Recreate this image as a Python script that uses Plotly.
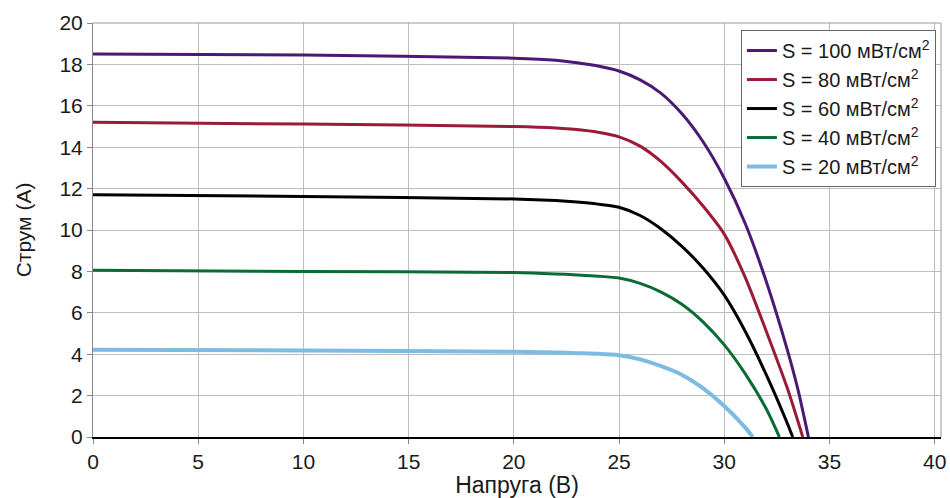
import plotly.graph_objects as go

# Data (voltage in V, current in A)
v100 = [0, 10, 20, 22, 23, 24, 25, 26, 27, 28, 29, 30, 31, 32, 33, 33.5, 34.0]
i100 = [18.5, 18.45, 18.3, 18.2, 18.08, 17.92, 17.68, 17.25, 16.6, 15.6, 14.25, 12.5, 10.3, 7.5, 4.2, 2.3, 0]

v80 = [0, 10, 20, 22, 23, 24, 25, 26, 27, 28, 29, 30, 31, 32, 33, 33.73]
i80 = [15.2, 15.12, 15.0, 14.93, 14.85, 14.72, 14.5, 14.05, 13.3, 12.3, 11.15, 9.8, 7.7, 5.1, 2.35, 0]

v60 = [0, 10, 20, 22, 23, 24, 25, 26, 27, 28, 29, 30, 31, 32, 33, 33.25]
i60 = [11.7, 11.62, 11.5, 11.42, 11.35, 11.25, 11.1, 10.7, 10.05, 9.2, 8.15, 6.85, 5.1, 3.0, 0.65, 0]

v40 = [0, 10, 20, 22, 23, 24, 25, 26, 27, 28, 29, 30, 31, 32, 32.62]
i40 = [8.05, 8.0, 7.95, 7.88, 7.83, 7.77, 7.68, 7.42, 7.0, 6.4, 5.55, 4.45, 3.05, 1.35, 0]

v20 = [0, 10, 20, 22, 23, 24, 25, 26, 27, 28, 29, 30, 31, 31.35]
i20 = [4.22, 4.18, 4.12, 4.08, 4.05, 4.02, 3.95, 3.75, 3.42, 3.0, 2.35, 1.5, 0.45, 0]

names = ["S = 100 мВт/см<sup>2</sup>", "S = 80 мВт/см<sup>2</sup>",
         "S = 60 мВт/см<sup>2</sup>", "S = 40 мВт/см<sup>2</sup>",
         "S = 20 мВт/см<sup>2</sup>"]
colors = ["#4b1873", "#9a1a38", "#000000", "#0b6b35", "#7dbbe2"]
widths = [3, 3, 3, 3, 4]
series = [(v100, i100), (v80, i80), (v60, i60), (v40, i40), (v20, i20)]

xticks = [0, 5, 10, 15, 20, 25, 30, 35, 40]
yticks = [0, 2, 4, 6, 8, 10, 12, 14, 16, 18, 20]

fig = go.Figure()
for (vx, iy), nm, c, w in zip(series, names, colors, widths):
    fig.add_trace(go.Scatter(x=vx, y=iy, name=nm, mode="lines",
                             line=dict(color=c, width=w, shape="spline", smoothing=0.7)))

font_family = "Liberation Sans, Arial, sans-serif"
fig.update_layout(
    width=950, height=498,
    margin=dict(l=93, r=9, t=23, b=61),
    paper_bgcolor="white", plot_bgcolor="white",
    font=dict(family=font_family, size=21, color="#1a1a1a"),
    showlegend=True,
    legend=dict(x=0.994, xanchor="right", y=0.983, yanchor="top",
                bgcolor="white", bordercolor="#666666", borderwidth=1,
                font=dict(size=20, color="#1a1a1a"),
                tracegroupgap=0, itemwidth=30),
    xaxis=dict(range=[0, 40.3], tickvals=xticks, showgrid=True, automargin=False,
               gridcolor="#bdbdbd", gridwidth=1, zeroline=False,
               showline=True, linecolor="#000000", linewidth=1.5,
               ticks="outside", ticklen=5, tickcolor="#888888",
               tickfont=dict(size=21),
               title=dict(text="Напруга (В)", font=dict(size=23), standoff=0)),
    yaxis=dict(range=[0, 20], tickvals=yticks, showgrid=True, automargin=False,
               gridcolor="#bdbdbd", gridwidth=1, zeroline=False,
               showline=True, linecolor="#888888", linewidth=1,
               ticks="outside", ticklen=5, tickcolor="#888888",
               tickfont=dict(size=21),
               title=dict(text="Струм (A)", font=dict(size=21), standoff=22)),
)
# top and right frame
fig.add_shape(type="line", xref="paper", yref="paper", x0=0, x1=1, y0=1, y1=1,
              line=dict(color="#999999", width=1))
fig.add_shape(type="line", xref="paper", yref="paper", x0=1, x1=1, y0=0, y1=1,
              line=dict(color="#999999", width=1))

fig.write_html("out.html", config={"displayModeBar": False},
               post_script="document.body.style.margin='0';document.body.style.overflow='hidden';")
